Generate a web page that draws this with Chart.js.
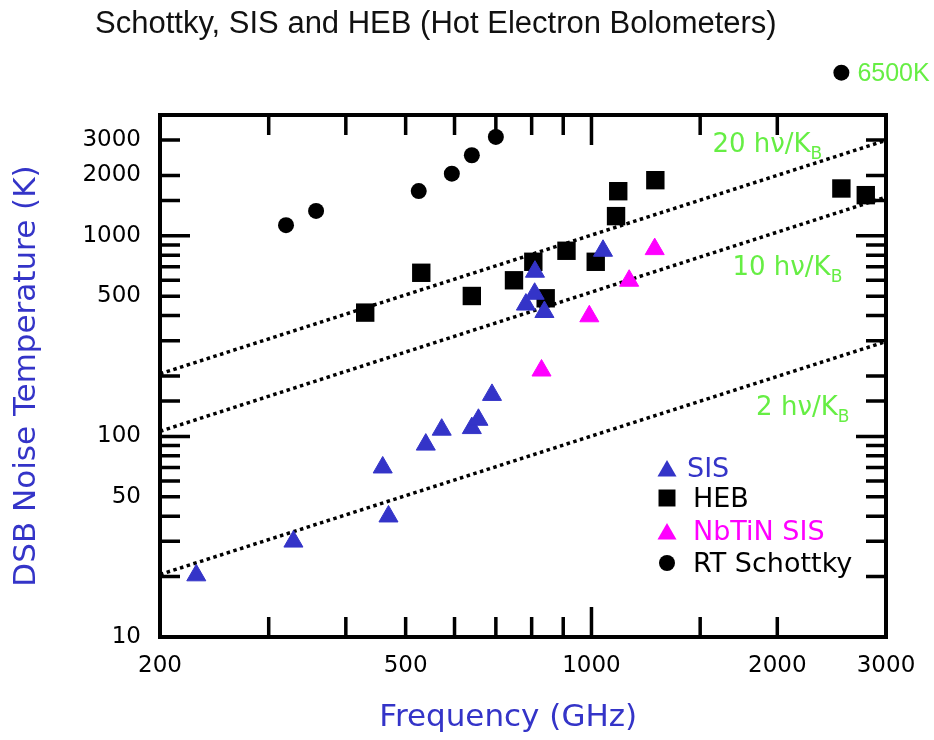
<!DOCTYPE html>
<html>
<head>
<meta charset="utf-8">
<title>Schottky, SIS and HEB</title>
<script src="https://cdn.jsdelivr.net/npm/chart.js@4.4.1/dist/chart.umd.min.js"></script>
<style>
  html, body { margin: 0; padding: 0; background: #fff; }
  #wrap { width: 934px; height: 740px; position: relative; }
</style>
</head>
<body>
<div id="wrap"><canvas id="chart"></canvas></div>
<script>
// Values (frequency in GHz, DSB noise temperature in K)
const sisFreq = [229, 329, 469, 459, 539, 572, 640, 656, 690, 783, 809, 810, 839, 1044];
const sisTemp = [20.3, 29.9, 39.9, 70, 91, 108, 110, 121, 161, 454, 514, 662, 417, 842];

const hebFreq = [430, 530, 640, 749, 805, 843, 911, 1016, 1096, 1105, 1269, 2540, 2782];
const hebTemp = [414, 654, 501, 600, 742, 488, 842, 742, 1253, 1668, 1893, 1721, 1594];

const nbtinFreq = [830, 992, 1151, 1266];
const nbtinTemp = [213, 397, 597, 858];

// last point is off the top of the scale (6500 K)
const schottkyFreq = [320, 358, 525, 594, 640, 700, 2540];
const schottkyTemp = [1130, 1330, 1670, 2040, 2520, 3110, 6500];

// n*h*nu/k reference lines, end points only
const lineFreq = [200, 3000];
const line20 = [205, 2990];
const line10 = [106, 1560];
const line2 = [20.5, 297];

// Tick labels that are actually printed
const xTickLabels = [200, 500, 1000, 2000, 3000];
const yTickLabels = [10, 50, 100, 500, 1000, 2000, 3000];

const BLUE = '#3434c8';
const MAGENTA = '#ff00ff';
const GREEN = '#66ee44';
const FONT = "'DejaVu Sans', sans-serif";

function toPoints(xs, ys) {
    return xs.map((x, i) => ({ x: x, y: ys[i] }));
}

function isDecade(v) {
    const l = Math.log10(v);
    return Math.abs(l - Math.round(l)) < 1e-6;
}

function dottedLine(label, values) {
    return {
        type: 'line',
        label: label,
        data: toPoints(lineFreq, values),
        borderColor: '#000',
        borderWidth: 3.5,
        borderDash: [3.5, 3.5],
        pointRadius: 0,
        fill: false
    };
}

function drawMarker(ctx, style, x, y, r, color) {
    ctx.fillStyle = color;
    ctx.beginPath();
    if (style === 'triangle') {
        let rad = 0;
        for (let i = 0; i < 3; i++) {
            const px = x + Math.sin(rad) * r, py = y - Math.cos(rad) * r;
            if (i === 0) ctx.moveTo(px, py); else ctx.lineTo(px, py);
            rad += Math.PI * 2 / 3;
        }
        ctx.closePath();
    } else if (style === 'rect') {
        const s = r * Math.SQRT1_2;
        ctx.rect(x - s, y - s, 2 * s, 2 * s);
    } else {
        ctx.arc(x, y, r, 0, Math.PI * 2);
    }
    ctx.fill();
}

// Frame with inward ticks on all four sides
const framePlugin = {
    id: 'frame',
    afterDatasetsDraw(chart) {
        const { ctx, chartArea: a, scales: { x, y } } = chart;
        ctx.save();
        ctx.strokeStyle = '#000';
        ctx.lineCap = 'butt';
        ctx.lineWidth = 3.5;
        ctx.beginPath();
        y.ticks.forEach(t => {
            const py = y.getPixelForValue(t.value);
            if (py <= a.top + 2 || py >= a.bottom - 2) return;
            const len = isDecade(t.value) ? 30 : 20;
            ctx.moveTo(a.left, py); ctx.lineTo(a.left + len, py);
            ctx.moveTo(a.right, py); ctx.lineTo(a.right - len, py);
        });
        x.ticks.forEach(t => {
            const px = x.getPixelForValue(t.value);
            if (px <= a.left + 2 || px >= a.right - 2) return;
            const len = isDecade(t.value) ? 30 : 20;
            ctx.moveTo(px, a.bottom); ctx.lineTo(px, a.bottom - len);
            ctx.moveTo(px, a.top); ctx.lineTo(px, a.top + len);
        });
        ctx.stroke();
        ctx.lineWidth = 4;
        ctx.strokeRect(a.left, a.top, a.right - a.left, a.bottom - a.top);
        ctx.restore();

        // points above the scale are not drawn by chart.js, draw them without the area check
        const meta = chart.getDatasetMeta(3);
        meta.data.forEach(pt => {
            if (pt.y < a.top) pt.draw(ctx);
        });
    }
};

// Title, line labels, legend and the 6500K note
const notesPlugin = {
    id: 'notes',
    afterDraw(chart) {
        const { ctx, scales: { x, y } } = chart;
        ctx.save();

        ctx.fillStyle = '#111';
        ctx.font = "31px 'Liberation Sans', Arial, sans-serif";
        ctx.textBaseline = 'alphabetic';
        ctx.textAlign = 'left';
        ctx.fillText('Schottky, SIS and HEB (Hot Electron Bolometers)', 95, 33);

        // green labels for the dotted lines
        const lineNotes = [['20 h\u03bd/K', 1570, 2620], ['10 h\u03bd/K', 1692, 638], ['2 h\u03bd/K', 1848, 128]];
        lineNotes.forEach(n => {
            const px = x.getPixelForValue(n[1]), py = y.getPixelForValue(n[2]);
            ctx.fillStyle = GREEN;
            ctx.font = '26px ' + FONT;
            ctx.fillText(n[0], px, py);
            const w = ctx.measureText(n[0]).width;
            ctx.font = '17px ' + FONT;
            ctx.fillText('B', px + w, py + 7);
        });

        // 6500K note next to the off-scale Schottky point
        const last = schottkyFreq.length - 1;
        ctx.fillStyle = GREEN;
        ctx.font = "25px 'Liberation Sans', Arial, sans-serif";
        ctx.textBaseline = 'middle';
        ctx.fillText(schottkyTemp[last] + 'K', x.getPixelForValue(schottkyFreq[last]) + 16, y.getPixelForValue(schottkyTemp[last]) + 1);

        // legend
        const items = [
            ['triangle', 11, BLUE, 'SIS', BLUE, 471, 687],
            ['rect', 12, '#000', 'HEB', '#000', 498, 693],
            ['triangle', 11, MAGENTA, 'NbTiN SIS', MAGENTA, 534, 693],
            ['circle', 8, '#000', 'RT Schottky', '#000', 563, 693]
        ];
        ctx.font = '27px ' + FONT;
        items.forEach(it => {
            drawMarker(ctx, it[0], 667, it[5], it[1], it[2]);
            ctx.fillStyle = it[4];
            ctx.fillText(it[3], it[6], it[0] === 'triangle' ? it[5] - 1 : it[5] + 2);
        });
        ctx.restore();
    }
};

const chart = new Chart(document.getElementById('chart'), {
    type: 'scatter',
    data: {
        datasets: [
            { label: 'SIS', data: toPoints(sisFreq, sisTemp), pointStyle: 'triangle', pointRadius: 11, backgroundColor: BLUE, borderColor: BLUE, borderWidth: 1 },
            { label: 'HEB', data: toPoints(hebFreq, hebTemp), pointStyle: 'rect', pointRadius: 13, backgroundColor: '#000', borderColor: '#000', borderWidth: 0 },
            { label: 'NbTiN SIS', data: toPoints(nbtinFreq, nbtinTemp), pointStyle: 'triangle', pointRadius: 11, backgroundColor: MAGENTA, borderColor: MAGENTA, borderWidth: 1 },
            { label: 'RT Schottky', data: toPoints(schottkyFreq, schottkyTemp), pointStyle: 'circle', pointRadius: 8, backgroundColor: '#000', borderColor: '#000', borderWidth: 0, clip: false },
            dottedLine('20 hν/KB', line20),
            dottedLine('10 hν/KB', line10),
            dottedLine('2 hν/KB', line2)
        ]
    },
    options: {
        responsive: true,
        maintainAspectRatio: false,
        animation: false,
        layout: { padding: { top: 115, right: 48, left: 0, bottom: 0 } },
        plugins: { legend: { display: false }, tooltip: { enabled: false } },
        scales: {
            x: {
                type: 'logarithmic',
                min: 200,
                max: 3000,
                grid: { display: false, drawTicks: false },
                border: { display: false },
                ticks: {
                    autoSkip: false, maxRotation: 0, padding: 15, color: '#000',
                    font: { family: FONT, size: 23 },
                    callback: v => xTickLabels.includes(Math.round(v)) ? String(Math.round(v)) : ''
                },
                // trailing spaces pull the centred title a little to the left, as in the original
                title: { display: true, text: 'Frequency (GHz)   ', color: BLUE, font: { family: FONT, size: 31 }, padding: { top: 0, bottom: 3 } },
                afterFit: s => { s.height = 103; }
            },
            y: {
                type: 'logarithmic',
                min: 10,
                max: 4000,
                grid: { display: false, drawTicks: false },
                border: { display: false },
                ticks: {
                    autoSkip: false, padding: 19, color: '#000',
                    font: { family: FONT, size: 23 },
                    callback: v => yTickLabels.includes(Math.round(v)) ? String(Math.round(v)) : ''
                },
                title: { display: true, text: 'DSB Noise Temperature (K)', color: BLUE, font: { family: FONT, size: 31 }, padding: { top: 8, bottom: 0 } },
                afterFit: s => { s.width = 160; }
            }
        }
    },
    plugins: [framePlugin, notesPlugin]
});
</script>
</body>
</html>
